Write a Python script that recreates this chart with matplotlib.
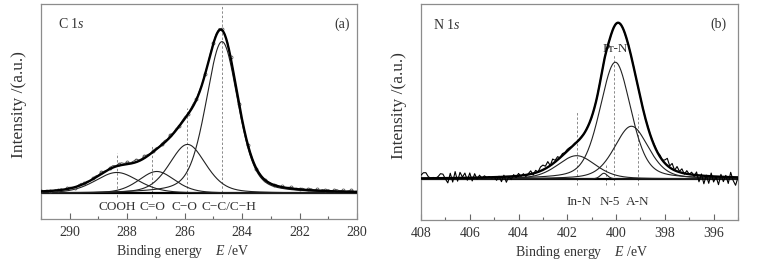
import numpy as np
import matplotlib.pyplot as plt
from matplotlib.ticker import MultipleLocator

plt.rcParams["font.family"] = ["Liberation Serif", "DejaVu Serif"]
plt.rcParams["mathtext.fontset"] = "custom"
plt.rcParams["mathtext.rm"] = "Liberation Serif"
plt.rcParams["mathtext.it"] = "Liberation Serif:italic"

# ---- C 1s fit: peak centre (eV), height, FWHM (eV), lorentz fraction
c_names = ["COOH", "C=O", "C\u2212O", "C\u2212C/C\u2212H"]
c_center = [288.36, 286.97, 285.90, 284.70]
c_height = [0.127, 0.133, 0.297, 0.92]
c_fwhm = [1.80, 1.50, 1.50, 1.32]
c_eta = 0.36
c_marks = [288.34, 287.12, 285.92, 284.70]       # dashed guide lines
c_mark_top = [0.245, 0.294, 0.518, 1.15]
c_label_x = [288.35, 287.12, 286.00, 284.47]

# raw C 1s data minus fit, every 0.1 eV from 291.0 to 280.0
c_resid = [
    0.004, -0.003, 0.006, 0.002, -0.004, 0.005, 0.000, 0.007, -0.002, 0.004,
    0.008, 0.003, -0.004, 0.006, 0.010, 0.002, 0.007, -0.003, 0.005, 0.009,
    0.004, 0.011, 0.006, 0.000, 0.008, 0.012, 0.005, 0.010, 0.014, 0.007,
    0.012, 0.004, 0.010, 0.015, 0.008, 0.006, 0.013, 0.009, 0.003, 0.007,
    0.010, 0.002, 0.008, 0.012, 0.005, 0.014, 0.006, 0.011, 0.004, 0.009,
    0.012, 0.003, 0.009, 0.015, 0.006, 0.011, 0.004, 0.010, 0.002, 0.008,
    0.006, 0.010, 0.012, 0.008, 0.004, 0.009, 0.002, 0.006, -0.003, 0.004,
    0.000, 0.005, -0.004, 0.006, 0.002, -0.003, 0.005, 0.001, -0.002, 0.004,
    0.003, -0.002, 0.006, 0.001, 0.004, -0.003, 0.005, 0.008, 0.002, 0.006,
    0.004, 0.009, 0.002, 0.006, 0.010, 0.003, 0.007, 0.001, 0.008, 0.005,
    0.009, 0.003, 0.007, 0.011, 0.004, 0.008, 0.002, 0.006, 0.010, 0.003, 0.005,
]

# ---- N 1s fit
n_names = ["In-N", "N-5", "Pr-N", "A-N"]
n_center = [401.62, 400.50, 400.03, 399.37]
n_height = [0.146, 0.036, 0.73, 0.33]
n_fwhm = [1.85, 0.35, 1.50, 1.65]
n_eta = 0.35
n_marks = [401.59, 400.42, 400.09, 399.12]
n_mark_top = [0.425, 0.094, 0.78, 0.406]
n_label_x = [401.53, 400.27, 400.02, 399.11]
n_label_y = [-0.142, -0.142, 0.81, -0.142]

# raw N 1s data minus fit, every 0.1 eV from 408.0 to 395.0
n_resid = [
    0.020, 0.035, 0.035, 0.010, 0.000, 0.005, 0.000,
    0.010, 0.028, 0.025, -0.005,
    -0.030, 0.030, -0.025, 0.040, -0.020, 0.035, 0.005, 0.030, -0.015, 0.030,
    -0.020, 0.025, -0.010, 0.015, -0.005, 0.010,
    0.000, 0.005, -0.005, 0.000, -0.020, 0.005, -0.030, 0.010, -0.035, 0.000, -0.020, 0.010, -0.010, 0.015,
    -0.005, 0.010, -0.010, 0.005, 0.020, -0.010, 0.015, 0.000, 0.025, 0.030,
    0.015, 0.035, 0.000, 0.030, 0.010, 0.020, 0.000, 0.012, 0.005, 0.010,
    0.008, 0.000, 0.006, 0.000, 0.004,
    0.003, -0.002, 0.004, 0.000, -0.003, 0.002, 0.000, 0.003, -0.002, 0.000,
    0.002, -0.003, 0.000, 0.003, 0.000, -0.002, 0.002, 0.000, -0.003, 0.002,
    0.000, 0.003, -0.002, 0.000, 0.002, 0.004, -0.003, 0.005, 0.000, 0.004,
    0.005, 0.000, 0.010, 0.000, 0.020, 0.045, 0.010, 0.035, 0.000, 0.030, 0.005, 0.025, -0.005, 0.020, 0.000,
    0.015, -0.010, 0.020, -0.040, 0.010, -0.050, 0.005, -0.045, 0.020, -0.035,
    0.000, -0.050, 0.015, -0.030, 0.010, -0.040, 0.030, -0.020, -0.050, 0.000,
]


def peak(x, c, h, w, eta):
    u = (x - c) / w
    return h * ((1 - eta) * np.exp(-4 * np.log(2) * u ** 2) + eta / (1 + 4 * u ** 2))


def draw_panel(ax, e_hi, e_lo, centers, heights, fwhms, eta, resid, marks, mark_top,
               names, label_x, label_y, ylim, raw_style):
    x = np.linspace(e_hi, e_lo, 800)
    comps = [peak(x, c, h, w, eta) for c, h, w in zip(centers, heights, fwhms)]
    env = np.sum(comps, axis=0)

    xr = e_hi - 0.1 * np.arange(len(resid))
    env_r = np.sum([peak(xr, c, h, w, eta) for c, h, w in zip(centers, heights, fwhms)], axis=0)
    raw = env_r + np.array(resid)

    for m, top in zip(marks, mark_top):
        ax.plot([m, m], [ylim[0] * 0.14, top], color="#8a8a8a", lw=0.7,
                ls=(0, (2.5, 2)), zorder=1)
    ax.plot([e_hi, e_lo], [0, 0], color="black", lw=1.6, zorder=2)
    for comp in comps:
        ax.plot(x, comp, color="#222222", lw=0.8, zorder=3)
    ax.plot(xr, raw, zorder=4, **raw_style)
    ax.plot(x, env, color="black", lw=1.7, zorder=5)

    for name, lx, ly in zip(names, label_x, label_y):
        ax.text(lx, ly, name, ha="center", va="center", fontsize=9.5, color="#333333")

    ax.set_xlim(e_hi, e_lo)
    ax.set_ylim(*ylim)
    ax.set_yticks([])
    ax.xaxis.set_major_locator(MultipleLocator(2))
    ax.xaxis.set_minor_locator(MultipleLocator(1))
    ax.tick_params(axis="x", which="both", direction="in", colors="#666666",
                   labelcolor="#333333", labelsize=10, pad=5)
    ax.tick_params(axis="x", which="major", length=4, width=0.8)
    ax.tick_params(axis="x", which="minor", length=2.5, width=0.8)
    for s in ax.spines.values():
        s.set_color("#8c8c8c")
        s.set_linewidth(0.9)
    ax.set_ylabel("Intensity /(a.u.)", fontsize=12.5, color="#333333")
    ax.yaxis.set_label_coords(-0.045, 0.53)
    ax.set_xlabel("Binding energy    $E$ /eV", fontsize=10, color="#333333")


fig = plt.figure(figsize=(7.59, 2.62), dpi=100)
ax1 = fig.add_axes([41 / 759, 43 / 262, 316 / 759, 215 / 262])
ax2 = fig.add_axes([421 / 759, 42 / 262, 317 / 759, 216 / 262])

draw_panel(ax1, 291.0, 280.0, c_center, c_height, c_fwhm, c_eta, c_resid,
           c_marks, c_mark_top, c_names, c_label_x, [-0.08] * 4, (-0.155, 1.148),
           dict(color="#444444", lw=0.6, marker="o", ms=2.2, mfc="none", mew=0.5,
                markevery=3))
ax1.xaxis.set_label_coords(0.45, -0.11)
ax1.text(0.054, 0.905, "C 1$s$", transform=ax1.transAxes, fontsize=10,
         color="#333333", va="center")
ax1.text(0.978, 0.905, "(a)", transform=ax1.transAxes, fontsize=10,
         color="#333333", va="center", ha="right")

draw_panel(ax2, 408.0, 395.0, n_center, n_height, n_fwhm, n_eta, n_resid,
           n_marks, n_mark_top, n_names, n_label_x, n_label_y, (-0.256, 1.094),
           dict(color="black", lw=0.8))
ax2.xaxis.set_label_coords(0.506, -0.11)
ax2.text(0.038, 0.905, "N 1$s$", transform=ax2.transAxes, fontsize=10,
         color="#333333", va="center")
ax2.text(0.965, 0.905, "(b)", transform=ax2.transAxes, fontsize=10,
         color="#333333", va="center", ha="right")

fig.savefig("out.png", dpi=100)
